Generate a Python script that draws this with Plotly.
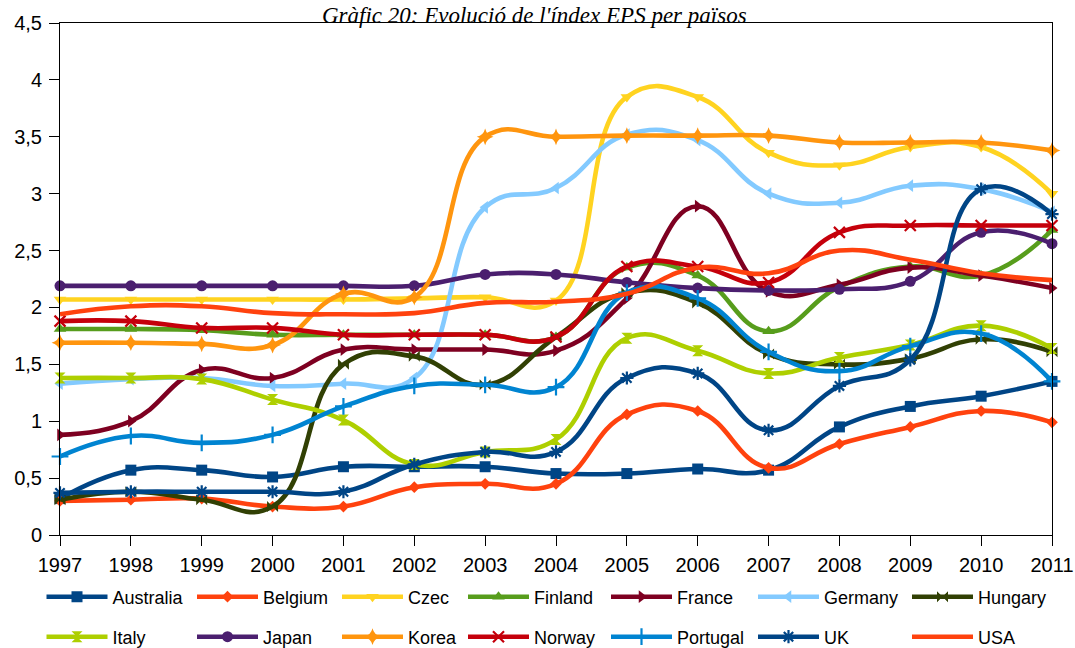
import plotly.graph_objects as go

# EPS index per country, 1997-2011
years = list(range(1997, 2012))

australia = [0.32, 0.57, 0.57, 0.51, 0.60, 0.60, 0.60, 0.54, 0.54, 0.58, 0.57, 0.95, 1.13, 1.22, 1.35]
belgium = [0.30, 0.31, 0.32, 0.25, 0.25, 0.42, 0.45, 0.45, 1.06, 1.09, 0.59, 0.80, 0.95, 1.09, 0.99]
czec = [2.07, 2.07, 2.07, 2.07, 2.07, 2.08, 2.09, 2.06, 3.85, 3.85, 3.36, 3.25, 3.41, 3.41, 3.00]
finland = [1.81, 1.81, 1.80, 1.76, 1.76, 1.76, 1.76, 1.74, 2.35, 2.28, 1.79, 2.18, 2.36, 2.28, 2.68]
france = [0.88, 1.00, 1.45, 1.38, 1.63, 1.63, 1.63, 1.62, 2.08, 2.89, 2.14, 2.20, 2.35, 2.28, 2.17]
germany = [1.33, 1.37, 1.38, 1.31, 1.33, 1.38, 2.88, 3.05, 3.52, 3.47, 3.00, 2.92, 3.07, 3.04, 2.84]
hungary = [0.31, 0.38, 0.31, 0.25, 1.50, 1.57, 1.32, 1.74, 2.13, 2.04, 1.59, 1.50, 1.55, 1.72, 1.61]
italy = [1.38, 1.38, 1.37, 1.19, 1.01, 0.62, 0.73, 0.84, 1.73, 1.62, 1.42, 1.56, 1.67, 1.84, 1.64]
japan = [2.19, 2.19, 2.19, 2.19, 2.19, 2.19, 2.29, 2.29, 2.22, 2.17, 2.15, 2.16, 2.23, 2.66, 2.56]
korea = [1.69, 1.69, 1.68, 1.67, 2.12, 2.09, 3.50, 3.50, 3.51, 3.51, 3.51, 3.45, 3.45, 3.45, 3.38]
norway = [1.88, 1.88, 1.82, 1.82, 1.76, 1.76, 1.76, 1.74, 2.36, 2.36, 2.22, 2.66, 2.72, 2.72, 2.72]
portugal = [0.69, 0.87, 0.81, 0.88, 1.13, 1.31, 1.32, 1.30, 2.13, 2.08, 1.61, 1.44, 1.66, 1.77, 1.35]
uk = [0.37, 0.38, 0.38, 0.38, 0.38, 0.62, 0.73, 0.73, 1.38, 1.42, 0.92, 1.31, 1.54, 3.04, 2.82]
usa = [1.94, 2.01, 2.01, 1.95, 1.94, 1.95, 2.04, 2.05, 2.12, 2.35, 2.30, 2.50, 2.42, 2.30, 2.24]

countries = ["Australia", "Belgium", "Czec", "Finland", "France", "Germany", "Hungary",
             "Italy", "Japan", "Korea", "Norway", "Portugal", "UK", "USA"]
values = [australia, belgium, czec, finland, france, germany, hungary,
          italy, japan, korea, norway, portugal, uk, usa]
colors = ["#004586", "#ff420e", "#ffd320", "#579d1c", "#7e0021", "#83caff", "#314004",
          "#aecf00", "#4b1f6f", "#ff950e", "#c5000b", "#0084d1", "#004586", "#ff420e"]
symbols = ["square", "diamond", "triangle-down", "triangle-up", "triangle-right",
           "triangle-left", "bowtie", "hourglass", "circle", "star-diamond",
           "x-thin", "cross-thin", "asterisk", None]
sizes = [11, 9, 11, 11, 11, 11, 11, 11, 11, 12, 11, 12, 11, 0]

# legend grid: column left edges (px) and row centres (px)
col_x = [46.5, 197, 342, 468, 611, 758, 912]
row_y = [597, 637]

W, H = 1075, 648
M_L, M_R, M_T, M_B = 60, 23, 23, 113
FONT = "Liberation Sans, Arial, sans-serif"

fig = go.Figure()
layout_legends = {}
for i, (name, vals, col, sym, sz) in enumerate(zip(countries, values, colors, symbols, sizes)):
    key = "legend" if i == 0 else f"legend{i + 1}"
    if sym is None:
        mode = "lines"
        marker = None
    else:
        mode = "lines+markers"
        thin = sym in ("x-thin", "cross-thin", "asterisk")
        marker = dict(symbol=sym, size=sz, color=col,
                      line=dict(width=2.2 if thin else 0, color=col))
    fig.add_trace(go.Scatter(
        x=years, y=vals, name=name, mode=mode,
        line=dict(color=col, width=4.6, shape="spline", smoothing=1.3),
        marker=marker, cliponaxis=False, legend=key,
    ))
    r, c = divmod(i, 7)
    layout_legends[key] = dict(
        x=(col_x[c] - 5) / W, y=1 - row_y[r] / H,
        xref="container", yref="container",
        xanchor="left", yanchor="middle",
        orientation="h", itemwidth=61,
        font=dict(family=FONT, size=18, color="#000000"),
        bgcolor="rgba(0,0,0,0)", borderwidth=0,
    )

plot_h = H - M_T - M_B
plot_w = W - M_L - M_R

axis_common = dict(
    showgrid=False, zeroline=False, automargin=False,
    showline=True, linecolor="black", linewidth=1, mirror=True,
    ticks="outside", ticklen=10, tickcolor="black",
    ticklabeloverflow="allow",
    tickfont=dict(family=FONT, size=20, color="black"),
)

fig.update_layout(
    width=W, height=H,
    margin=dict(l=M_L, r=M_R, t=M_T, b=M_B, autoexpand=False),
    paper_bgcolor="white", plot_bgcolor="white",
    separators=", ",
    showlegend=True,
    font=dict(family=FONT, size=20, color="#000000"),
    xaxis=dict(range=[1997, 2011], tickmode="linear", tick0=1997, dtick=1,
               ticklabelstandoff=2, **axis_common),
    yaxis=dict(range=[0, 4.5], tickmode="linear", tick0=0, dtick=0.5,
               ticklabelstandoff=3, **axis_common),
    **layout_legends,
)

fig.add_annotation(
    text="Gràfic 20: Evolució de l'índex EPS per països",
    xref="paper", yref="paper",
    x=(534 - M_L) / plot_w, y=1 + (M_T - 1) / plot_h,
    xanchor="center", yanchor="top", showarrow=False,
    font=dict(family="Liberation Serif, Times New Roman, serif", size=23,
              color="black", style="italic"),
)

fig.write_html("out.html")
